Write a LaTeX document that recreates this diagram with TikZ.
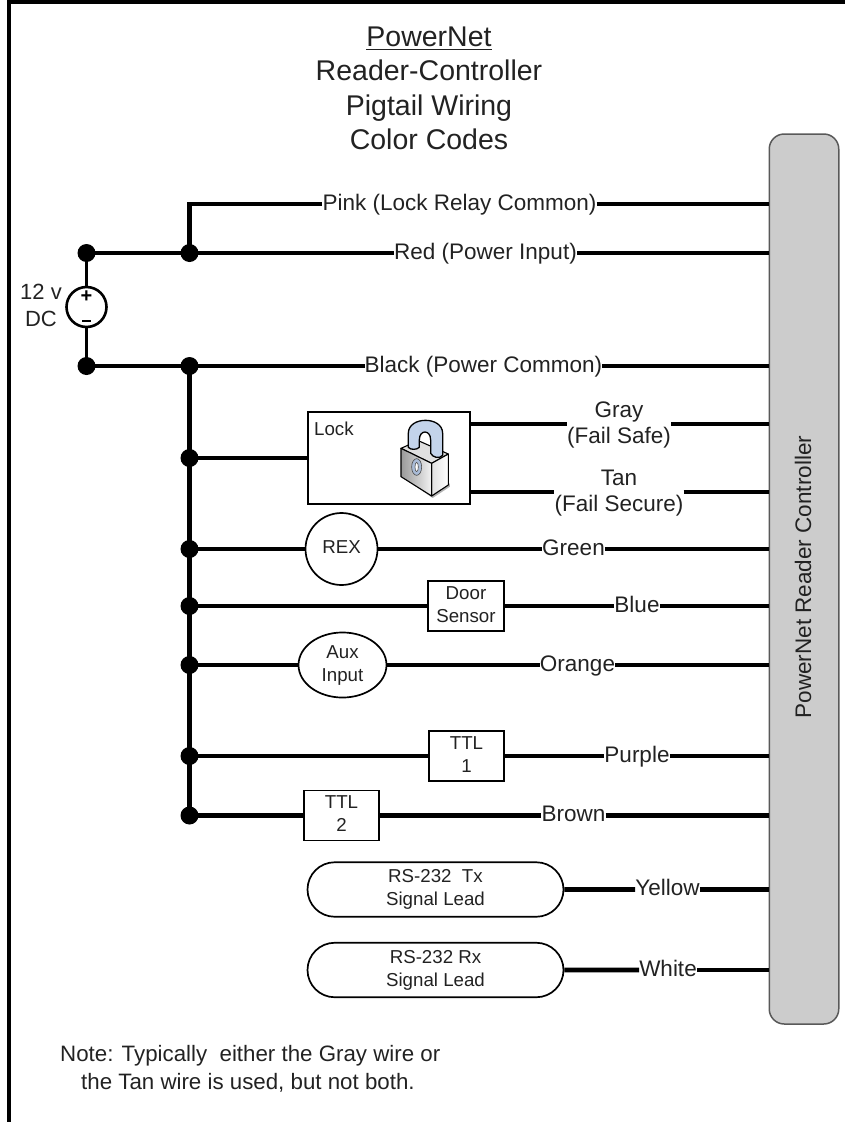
\documentclass[tikz,border=0pt]{standalone}
\usepackage{fontspec}
\setmainfont{Liberation Sans}
\usetikzlibrary{shapes.geometric,shapes.misc,calc}
\definecolor{ink}{HTML}{222222}
\definecolor{panel}{HTML}{CCCCCC}
\definecolor{shacklefill}{HTML}{C3D3EA}
\definecolor{keyfill}{HTML}{A9BBD6}
\newcommand{\fsz}[2]{\fontsize{#1}{#2}\selectfont}
\tikzset{
  x=1pt,y=-1pt,
  wire/.style={line width=4.6pt,black},
  lead/.style={line width=2.8pt,black},
  frameline/.style={line width=4pt,black},
  junction/.style={circle,fill=black,draw=none,minimum size=18pt,inner sep=0pt},
  wirelabel/.style={font=\fsz{22.5}{30},text=ink,inner sep=0pt,align=center},
  wirelabeltwo/.style={font=\fsz{22.5}{26.5},text=ink,inner sep=0pt,align=center},
  titletext/.style={font=\fsz{28.5}{34},text=ink,inner sep=0pt,anchor=base},
  bodytext/.style={font=\fsz{22.3}{28},text=ink,inner sep=0pt,anchor=base west},
  part/.style={draw=black,line width=1.7pt,fill=white,text=ink,inner sep=0pt,align=center,font=\fsz{18.7}{23}},
  boxpart/.style={part,rectangle,minimum width=75.5pt,minimum height=50pt},
  signalpart/.style={part,rounded rectangle,minimum width=256pt,minimum height=54.5pt},
}
\begin{document}
\begin{tikzpicture}
\useasboundingbox (0,0) rectangle (845,1122);
% frame
\coordinate (fbl) at (9,1122);
\coordinate (ftl) at (9,1.5);
\coordinate (ftr) at (845,1.5);
\draw[frameline] (fbl) -- (ftl) -- (ftr);
% title
\node[titletext] (t1) at (429,46) {PowerNet};
\node[titletext] (t2) at (429,80) {Reader-Controller};
\node[titletext] (t3) at (429,115) {Pigtail Wiring};
\node[titletext] (t4) at (429,149) {Color Codes};
\draw[line width=1.6pt,ink] ($(t1.base west)+(0,3.5)$) -- ($(t1.base east)+(0,3.5)$);
% controller
\node[draw=black!65,line width=1.5pt,fill=panel,rounded corners=15pt,minimum width=69.5pt,minimum height=890pt,inner sep=0pt] (ctrl) at (804,579) {};
\node[text=ink,inner sep=0pt,rotate=90,font=\fsz{22.5}{26}] (ctrltext) at (803,577) {PowerNet Reader Controller};
% junctions
\node[junction] (jl1) at (86.5,253) {};
\node[junction] (jl2) at (86.5,366) {};
\node[junction] (jb1) at (189.5,253) {};
\node[junction] (jb2) at (189.5,366) {};
\node[junction] (j3) at (189.5,458) {};
\node[junction] (j4) at (189.5,549) {};
\node[junction] (j5) at (189.5,606) {};
\node[junction] (j6) at (189.5,665) {};
\node[junction] (j7) at (189.5,756) {};
\node[junction] (j8) at (189.5,815.5) {};
\coordinate (pcorner) at (189.5,204);
% source
\node[draw=black,line width=2.6pt,fill=white,circle,minimum size=40pt,inner sep=0pt] (src) at (86.5,307) {};
\draw[lead] (jl1.center) -- (src);
\draw[lead] (src) -- (jl2.center);
\node[inner sep=0pt,font=\bfseries\fsz{20}{20},text=black] (srcp) at (86.5,297) {+};
\node[inner sep=0pt,text=black] (srcm) at (86.5,321) {\rule{9pt}{2.6pt}};
\node[text=ink,inner sep=0pt,align=center,font=\fsz{22}{27}] (srctext) at (41,308) {12 v\strut\\DC\strut};
% labels
\node[wirelabel] (pink) at (459.5,204) {Pink (Lock Relay Common)\strut};
\node[wirelabel] (red) at (485.5,253) {Red (Power Input)\strut};
\node[wirelabel] (blk) at (483.5,366) {Black (Power Common)\strut};
\node[wirelabeltwo] (gray) at (619,425) {Gray\strut\\(Fail Safe)\strut};
\node[wirelabeltwo] (tan) at (619,493) {Tan\strut\\(Fail Secure)\strut};
\node[wirelabel] (green) at (573.5,549) {Green\strut};
\node[wirelabel] (blue) at (637,606) {Blue\strut};
\node[wirelabel] (orange) at (577.5,665) {Orange\strut};
\node[wirelabel] (purple) at (637,756) {Purple\strut};
\node[wirelabel] (brown) at (573.5,815.5) {Brown\strut};
\node[wirelabel] (yellow) at (667.5,889.5) {Yellow\strut};
\node[wirelabel] (white) at (668,970) {White\strut};
% parts
\node[part,rectangle,minimum width=162pt,minimum height=92pt] (lock) at (389,458) {};
\node[text=ink,inner sep=0pt,anchor=base west,font=\fsz{18.7}{23}] (locktext) at (314,435) {Lock};
\node[part,circle,minimum size=72pt] (rex) at (341.5,549) {REX\strut};
\node[boxpart] (door) at (466,606) {Door\strut\\Sensor\strut};
\node[part,ellipse,minimum width=88pt,minimum height=60pt] (aux) at (342.5,665) {Aux\strut\\Input\strut};
\node[boxpart] (ttl1) at (466.5,756) {TTL\strut\\1\strut};
\node[boxpart] (ttl2) at (341.5,815.5) {TTL\strut\\2\strut};
\node[signalpart] (tx) at (435.5,889.5) {RS-232\ \ Tx\strut\\Signal Lead\strut};
\node[signalpart] (rx) at (435.5,970) {RS-232 Rx\strut\\Signal Lead\strut};
% wires
\draw[wire] (jl1.center) -- (jb1.center);
\draw[wire] (jb1.center) -- (red);
\draw[wire] (red) -- (red -| ctrl.west);
\draw[wire,line join=miter] (jb1.center) -- (pcorner) -- (pink);
\draw[wire] (pink) -- (pink -| ctrl.west);
\draw[wire] (jl2.center) -- (jb2.center);
\draw[wire] (jb2.center) -- (blk);
\draw[wire] (blk) -- (blk -| ctrl.west);
\draw[wire] (jb2.center) -- (j8.center);
\draw[wire] (j3.center) -- (lock);
\coordinate (gr) at (lock.east |- 0,424);
\coordinate (tr) at (lock.east |- 0,492);
\draw[wire] (gr) -- (gr -| gray.west);
\draw[wire] (gray.east |- gr) -- (gr -| ctrl.west);
\draw[wire] (tr) -- (tr -| tan.west);
\draw[wire] (tan.east |- tr) -- (tr -| ctrl.west);
\draw[wire] (j4.center) -- (rex);
\draw[wire] (rex) -- (green);
\draw[wire] (green) -- (green -| ctrl.west);
\draw[wire] (j5.center) -- (door);
\draw[wire] (door) -- (blue);
\draw[wire] (blue) -- (blue -| ctrl.west);
\draw[wire] (j6.center) -- (aux);
\draw[wire] (aux) -- (orange);
\draw[wire] (orange) -- (orange -| ctrl.west);
\draw[wire] (j7.center) -- (ttl1);
\draw[wire] (ttl1) -- (purple);
\draw[wire] (purple) -- (purple -| ctrl.west);
\draw[wire] (j8.center) -- (ttl2);
\draw[wire] (ttl2) -- (brown);
\draw[wire] (brown) -- (brown -| ctrl.west);
\draw[wire] (tx) -- (yellow);
\draw[wire] (yellow) -- (yellow -| ctrl.west);
\draw[wire] (rx) -- (white);
\draw[wire] (white) -- (white -| ctrl.west);
% padlock
\begin{scope}[shift={(290,370)},x=0.3333pt,y=-0.3333pt,line join=round]
\fill[black!30] (338,322) -- (428,384) -- (480,350) -- (480,340) -- (428,372) -- cycle;
\fill[fill=black!12,draw=black,line width=1.1pt] (333,235) -- (385,212) -- (475,252) -- (425,280) -- cycle;
\draw[fill=shacklefill,draw=black,line width=1.3pt] (355,232) -- (355,190) .. controls (355,138) and (458,138) .. (458,190) -- (458,256) .. controls (448,268) and (428,262) .. (422,250) -- (422,210) .. controls (422,178) and (388,178) .. (388,210) -- (388,232) .. controls (380,240) and (362,240) .. (355,232) -- cycle;
\shade[left color=black!12,right color=white,draw=black,line width=1.1pt] (425,280) -- (475,252) -- (475,345) -- (425,378) -- cycle;
\shade[left color=black!40,right color=black!5,draw=black,line width=1.1pt] (333,235) -- (425,280) -- (425,378) -- (333,320) -- cycle;
\draw[fill=keyfill,draw=black!70,line width=0.6pt] (380,291) ellipse [x radius=15,y radius=25];
\draw[fill=white,draw=black!70,line width=0.6pt] (380,291) ellipse [x radius=5,y radius=14];
\end{scope}
% note
\node[bodytext] (note1) at (60,1061) {Note: Typically\ \ either the Gray wire or};
\node[bodytext] (note2) at (81,1089) {the Tan wire is used, but not both.};
\end{tikzpicture}
\end{document}
